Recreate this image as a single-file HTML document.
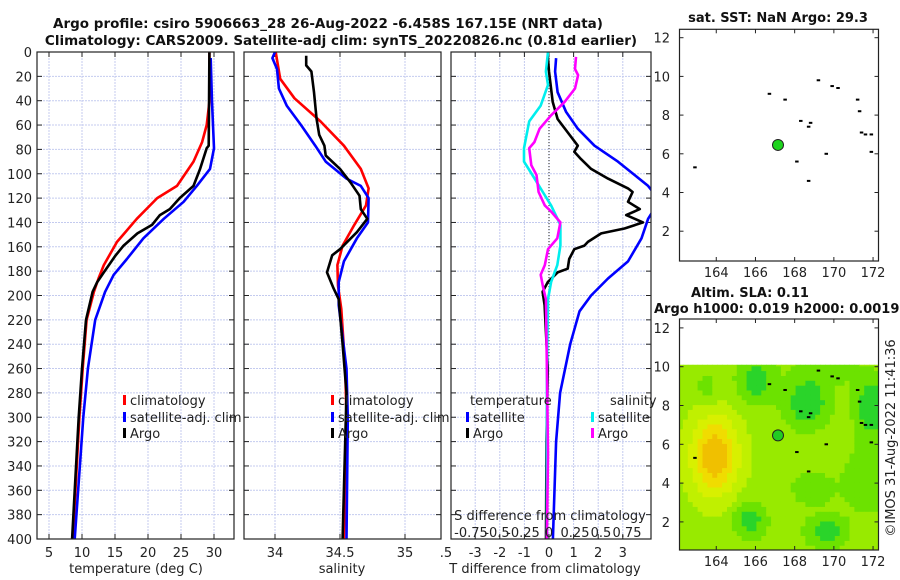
<!DOCTYPE html>
<html><head><meta charset="utf-8"><style>
body{margin:0;background:#fff;}
svg{display:block;font-family:"DejaVu Sans","Liberation Sans",sans-serif;}
</style></head><body>
<svg id="c" width="900" height="580" viewBox="0 0 900 580"></svg>
<script>
// ---- data ----
const depthTicks=[0,20,40,60,80,100,120,140,160,180,200,220,240,260,280,300,320,340,360,380,400];
const tempTicks=[5,10,15,20,25,30];
const salTicks=[34,34.5,35];
const tdTicks=[-3,-2,-1,0,1,2,3];
const sdTickLabels=["-0.75","-0.5","-0.25","0","0.25","0.5","0.75"];
const sdTickValues=[-0.75,-0.5,-0.25,0,0.25,0.5,0.75];
const latTicks=[2,4,6,8,10,12];
const lonTicks=[164,166,168,170,172];

const climT_d=[0,41,60,74,90,110,120,137,156,175,186,197,220,260,300,400];
const climT_v=[29.3,29.3,28.9,28.2,26.9,24.4,21.4,18.3,15.3,13.3,12.5,11.8,10.7,10.1,9.6,8.6];
const satT_d=[5,41,79,96,110,123,137,153,170,183,197,220,260,300,400];
const satT_v=[29.5,29.7,30.0,29.4,27.4,25.4,22.4,19.3,16.8,14.8,13.5,12.0,10.9,10.2,8.9];
const argoT_d=[0,77,79,96,110,120,129,134,142,149,159,167,181,189,197,220,260,300,400];
const argoT_v=[29.3,29.2,28.9,27.9,26.9,24.8,23.3,21.8,20.6,18.4,16.3,15.1,13.3,12.3,11.6,10.6,10.0,9.5,8.5];

const climS_d=[0,22,38,57,77,96,112,126,142,159,175,192,211,260,300,400];
const climS_v=[34.005,34.04,34.15,34.35,34.53,34.66,34.72,34.70,34.61,34.52,34.48,34.485,34.51,34.54,34.55,34.53];
const satS_d=[0,5,14,30,44,60,77,90,104,110,120,140,153,172,189,208,260,300,400];
const satS_v=[34.0,33.98,34.015,34.03,34.09,34.2,34.31,34.39,34.55,34.66,34.72,34.715,34.63,34.53,34.49,34.49,34.55,34.56,34.55];
const argoS_d=[3,11,16,33,55,68,77,85,96,107,118,129,137,148,162,167,181,194,203,240,280,320,360,400];
const argoS_v=[34.24,34.24,34.28,34.3,34.32,34.34,34.38,34.39,34.5,34.58,34.65,34.66,34.71,34.63,34.5,34.44,34.4,34.45,34.49,34.52,34.55,34.54,34.53,34.52];

const satTd_d=[5,16,33,49,63,77,90,101,110,122,137,153,172,186,200,213,240,280,320,400];
const satTd_v=[0.29,0.25,0.35,0.69,1.17,1.85,2.8,3.48,4.03,4.5,4.03,3.76,3.21,2.4,1.71,1.24,0.86,0.45,0.29,0.16];
const argoTd_d=[3,16,41,55,66,77,82,88,96,104,112,115,123,129,134,140,145,149,156,159,162,170,178,181,189,197,208,260,320,400];
const argoTd_v=[-0.05,0,0.15,0.35,0.76,1.17,1.03,1.3,1.71,2.4,3.21,3.4,3.21,3.69,3.14,3.82,3.07,2.12,1.58,1.44,1.03,0.82,0.76,0.35,-0.05,-0.26,-0.18,-0.05,-0.1,-0.12];
const satSd_d=[0,16,27,44,57,79,90,101,115,126,142,159,175,189,203,260,330,400];
const satSd_v=[-0.01,-0.03,-0.01,-0.08,-0.19,-0.24,-0.24,-0.16,-0.06,0.02,0.11,0.11,0.08,0.02,-0.01,-0.02,-0.02,-0.02];
const argoSd_d=[4,14,19,30,41,52,63,74,79,93,101,115,126,131,140,153,162,175,183,192,203,260,330,400];
const argoSd_v=[0.26,0.25,0.28,0.25,0.15,0.02,-0.09,-0.14,-0.19,-0.17,-0.12,-0.1,-0.04,0.02,0.11,0.08,-0.01,-0.04,-0.08,-0.06,-0.03,-0.02,-0.01,-0.02];

const floatLon=167.15, floatLat=6.458;
// ---- helpers ----
const S="http://www.w3.org/2000/svg", svg=document.getElementById('c');
function el(tag,attrs,parent){const e=document.createElementNS(S,tag);for(const k in attrs)e.setAttribute(k,attrs[k]);(parent||svg).appendChild(e);return e;}
function txt(x,y,s,attrs,parent){const t=el('text',Object.assign({x:x,y:y,'font-size':13,fill:'#222'},attrs||{}),parent);t.textContent=s;return t;}
const TOP=52,BOT=539;
const yD=d=>TOP+d*(BOT-TOP)/400;
const P1={l:37,r:234},P2={l:244,r:441},P3={l:451,r:651};
const xT=v=>49+(v-5)*6.6;
const xS=v=>275+(v-34)*130;
const xTd=v=>549+v*24.6;
const xSd=v=>549+v*104;

function panel(P,name,xticks,xf,clipId){
  const g=el('g',{});
  
  
  el('clipPath',{id:clipId},g).appendChild(el('rect',{x:P.l,y:TOP,width:P.r-P.l,height:BOT-TOP}));
  depthTicks.forEach(d=>{const y=yD(d);
    el('line',{x1:P.l,x2:P.r,y1:y,y2:y,stroke:'#c4cbef','stroke-width':1,'stroke-dasharray':'2,1'},g);
    el('line',{x1:P.l,x2:P.l+5,y1:y,y2:y,stroke:'#222'},g);el('line',{x1:P.r-5,x2:P.r,y1:y,y2:y,stroke:'#222'},g);});
  xticks.forEach(v=>{const x=xf(v);
    el('line',{x1:x,x2:x,y1:TOP,y2:BOT,stroke:'#c4cbef','stroke-width':1,'stroke-dasharray':'2,1'},g);
    el('line',{x1:x,x2:x,y1:TOP,y2:TOP+5,stroke:'#222'},g);el('line',{x1:x,x2:x,y1:BOT-5,y2:BOT,stroke:'#222'},g);});
  return g;
}
function line(g,ds,vs,xf,color,name,clipId,w){
  const p=el('polyline',{points:ds.map((d,i)=>xf(vs[i]).toFixed(1)+','+yD(d).toFixed(1)).join(' '),fill:'none',stroke:color,'stroke-width':w||2.6,'stroke-linejoin':'round','clip-path':'url(#'+clipId+')'},g);
  
  
}
function frame(P){el('rect',{x:P.l,y:TOP,width:P.r-P.l,height:BOT-TOP,fill:'none',stroke:'#222','stroke-width':1.2});}
function legend(x,y,color,label){el('rect',{x:x,y:y-6,width:3,height:10,fill:color});txt(x+7,y+4,label);}

// titles
const t1=txt(328,28,"Argo profile: csiro 5906663_28 26-Aug-2022 -6.458S 167.15E (NRT data)",{'font-weight':'bold','text-anchor':'middle','font-size':13.5,fill:'#111'});


const t2=txt(341,45,"Climatology: CARS2009. Satellite-adj clim: synTS_20220826.nc (0.81d earlier)",{'font-weight':'bold','text-anchor':'middle','font-size':13.5,fill:'#111'});



// panel 1
const g1=panel(P1,'temperature-panel',tempTicks,xT,'cp1');
line(g1,climT_d,climT_v,xT,'#ff0000','temp-climatology-line','cp1');
line(g1,satT_d,satT_v,xT,'#0000ff','temp-satellite-line','cp1');
line(g1,argoT_d,argoT_v,xT,'#000000','temp-argo-line','cp1');
frame(P1);
depthTicks.forEach(d=>txt(32,yD(d)+5,String(d),{'text-anchor':'end'}));
tempTicks.forEach(v=>txt(xT(v),557,String(v),{'text-anchor':'middle'}));
txt(136,573,"temperature (deg C)",{'text-anchor':'middle'});
legend(123,401,'#ff0000','climatology');legend(123,418,'#0000ff','satellite-adj. clim');legend(123,434,'#000','Argo');

// panel 2
const g2=panel(P2,'salinity-panel',salTicks,xS,'cp2');
line(g2,climS_d,climS_v,xS,'#ff0000','sal-climatology-line','cp2');
line(g2,satS_d,satS_v,xS,'#0000ff','sal-satellite-line','cp2');
line(g2,argoS_d,argoS_v,xS,'#000000','sal-argo-line','cp2');
frame(P2);
salTicks.forEach(v=>txt(xS(v),557,String(v),{'text-anchor':'middle'}));
txt(446,557,".5",{'text-anchor':'middle'});
txt(342,573,"salinity",{'text-anchor':'middle'});
legend(331,401,'#ff0000','climatology');legend(331,418,'#0000ff','satellite-adj. clim');legend(331,434,'#000','Argo');

// panel 3
const g3=panel(P3,'difference-panel',tdTicks,xTd,'cp3');
el('line',{x1:549,x2:549,y1:TOP,y2:yD(250),stroke:'#555','stroke-width':1.3,'stroke-dasharray':'1,2'},g3);
line(g3,satTd_d,satTd_v,xTd,'#0000ff','tdiff-satellite-line','cp3');
line(g3,argoTd_d,argoTd_v,xTd,'#000000','tdiff-argo-line','cp3');
line(g3,satSd_d,satSd_v,xSd,'#00eeee','sdiff-satellite-line','cp3');
line(g3,argoSd_d,argoSd_v,xSd,'#ff00ff','sdiff-argo-line','cp3');
frame(P3);
tdTicks.forEach(v=>txt(xTd(v),557,String(v),{'text-anchor':'middle'}));
txt(545,573,"T difference from climatology",{'text-anchor':'middle'});
txt(550,520,"S difference from climatology",{'text-anchor':'middle'});
sdTickValues.forEach((v,i)=>txt(xSd(v),537,sdTickLabels[i],{'text-anchor':'middle'}));
txt(470,405,"temperature");txt(610,405,"salinity");
legend(466,418,'#0000ff','satellite');legend(466,434,'#000','Argo');
legend(591,418,'#00eeee','satellite');legend(591,434,'#ff00ff','Argo');

// ---- maps ----
const ML=679.5,MR=878.5;
const xLon=lon=>778+(lon-floatLon)*19.6;
function mapAxes(top,bot,yLat,name){
  const g=el('g',{});
  
  
  latTicks.forEach(l=>{const y=yLat(l);txt(670,y+5,String(l),{'text-anchor':'end'},g);
    el('line',{x1:ML,x2:ML+4,y1:y,y2:y,stroke:'#222'},g);el('line',{x1:MR-4,x2:MR,y1:y,y2:y,stroke:'#222'},g);});
  lonTicks.forEach(l=>{const x=xLon(l);txt(x,bot+16,String(l),{'text-anchor':'middle'},g);
    el('line',{x1:x,x2:x,y1:top,y2:top+4,stroke:'#222'},g);el('line',{x1:x,x2:x,y1:bot-4,y2:bot,stroke:'#222'},g);});
  el('rect',{x:ML,y:top,width:MR-ML,height:bot-top,fill:'none',stroke:'#222','stroke-width':1.2},g);
  return g;
}
const coastLon=[169.2,169.9,170.2,166.7,167.5,168.3,168.7,168.8,171.2,171.3,171.4,171.6,171.9,169.6,171.9,168.1,162.9,168.7];
const coastLat=[9.8,9.5,9.4,9.1,8.8,7.7,7.4,7.6,8.8,8.2,7.1,7.0,7.0,6.0,6.1,5.6,5.3,4.6];
function coast(yLat,g){coastLon.forEach((lo,i)=>el('rect',{x:xLon(lo)-1.5,y:yLat(coastLat[i])-1,width:3.5,height:2,fill:'#000'},g));}

// map 1 (SST)
const yLat1=l=>37.7-(l-12)*19.35;
const gm1=el('g',{});
coast(yLat1,gm1);
const c1=el('circle',{cx:xLon(floatLon),cy:yLat1(floatLat),r:5.5,fill:'#1ed41e',stroke:'#222','stroke-width':1});


mapAxes(29.3,261,yLat1,'sst-map');
txt(778,22,"sat. SST: NaN Argo: 29.3",{'text-anchor':'middle','font-weight':'bold','font-size':13,fill:'#111'});

// map 2 (SLA)
const yLat2=l=>366.7-(l-10)*19.4;
el('clipPath',{id:'cpm2'}).appendChild(el('rect',{x:ML,y:yLat2(10.1),width:MR-ML,height:550-yLat2(10.1)}));
const gm2=el('g',{'clip-path':'url(#cpm2)'});


const blobs=[[163.8,5.3,1.2,2.0,0.75],[165.9,9.2,0.9,1.1,-0.5],[168.5,8.0,1.1,1.2,-0.55],[171.8,7.8,0.8,1.5,-0.55],[165.6,2.0,0.8,0.9,-0.45],[169.5,1.4,1.0,0.8,-0.45],[168.8,3.6,1.0,0.8,-0.3],[171.5,4.0,1.1,1.6,-0.3],[163.4,8.8,0.6,0.8,-0.2],[169.5,9.8,1.5,0.8,-0.25]];
function col(v){
  if(v>0.8)return '#f0c000';if(v>0.62)return '#f0dc00';if(v>0.45)return '#d8f000';
  if(v>0.28)return '#c0f000';if(v>0.12)return '#98ea00';if(v>-0.1)return '#6ce200';return '#2ad42a';}
for(let lo=162.05;lo<172.2;lo+=0.25){for(let la=0.55;la<10.1;la+=0.25){
  let v=0.22;blobs.forEach(b=>{v+=b[4]*Math.exp(-(((lo-b[0])/b[2])**2+((la-b[1])/b[3])**2));});
  el('rect',{x:xLon(lo).toFixed(1),y:yLat2(la+0.25).toFixed(1),width:5.4,height:5.4,fill:col(v)},gm2);}}
coast(yLat2,el('g',{}));
const c2=el('circle',{cx:xLon(floatLon),cy:yLat2(floatLat),r:5.5,fill:'#22cc22',stroke:'#222','stroke-width':1});


mapAxes(319,550,yLat2,'sla-map');
txt(750,297,"Altim. SLA: 0.11",{'text-anchor':'middle','font-weight':'bold','font-size':13,fill:'#111'});
txt(654,313,"Argo h1000: 0.019 h2000: 0.0019",{'font-weight':'bold','font-size':13,fill:'#111'});
txt(0,0,"©IMOS 31-Aug-2022 11:41:36",{'text-anchor':'middle',transform:'translate(895,438) rotate(-90)'});
</script>
</body></html>
